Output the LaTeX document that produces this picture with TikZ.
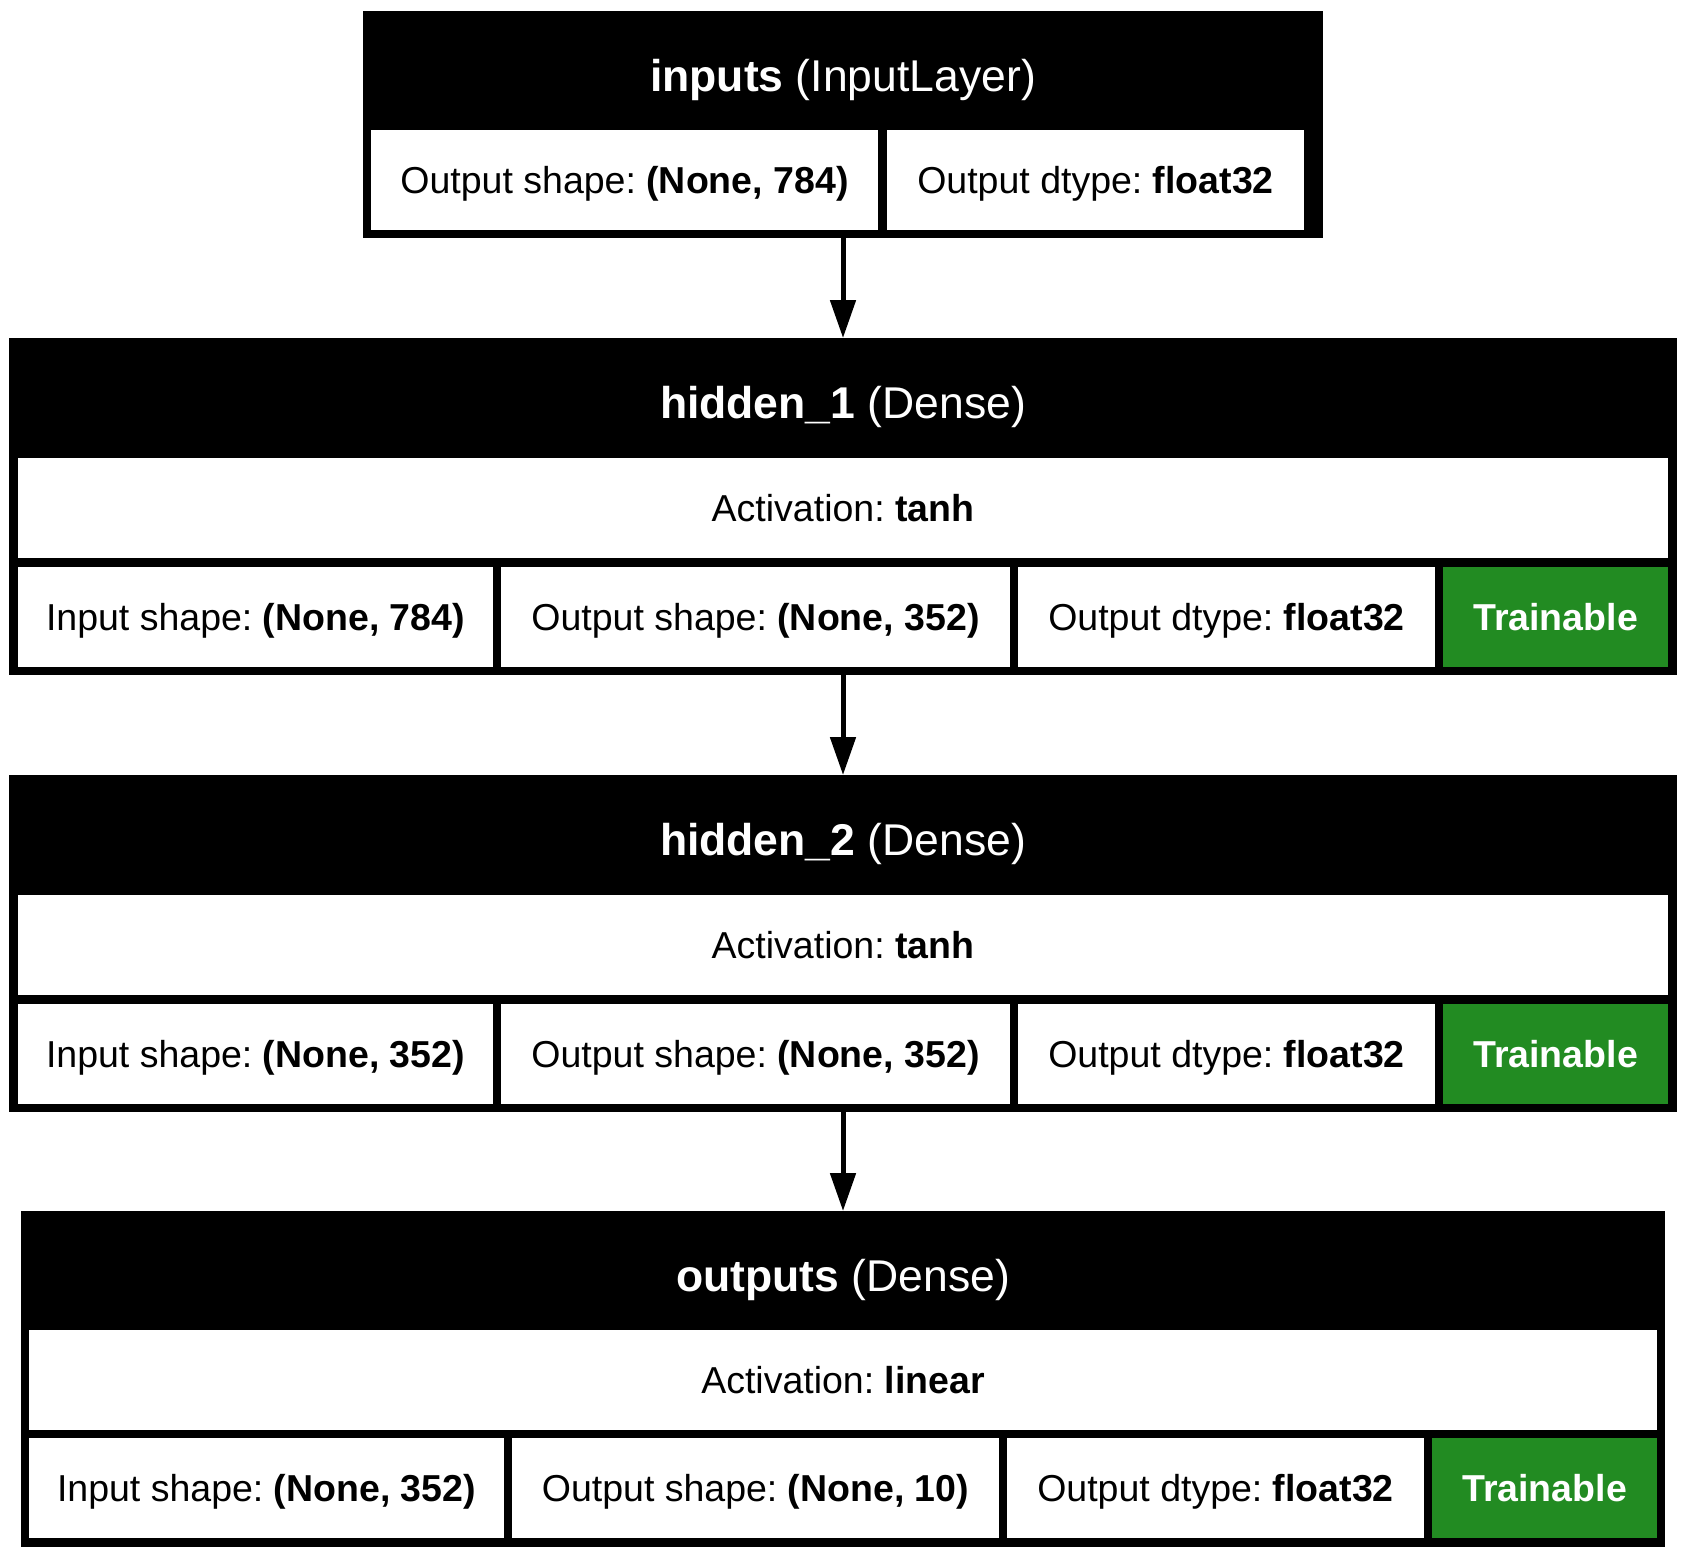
\documentclass[tikz,border=0pt]{standalone}
\usepackage{fontspec}
\setmainfont{Liberation Sans}
\usetikzlibrary{arrows.meta}
\definecolor{traingreen}{RGB}{34,139,34}
\frenchspacing
\tikzset{
  frame/.style={fill=black, draw=none, inner sep=0pt, outer sep=0pt, anchor=north west},
  cellbox/.style={fill=white, draw=none, inner sep=0pt, outer sep=0pt, anchor=north west,
    minimum height=100pt, font=\fontsize{37.5}{45}\selectfont\frenchspacing, text height=33.75pt, text depth=6.75pt},
  greencell/.style={cellbox, fill=traingreen, text=white, font=\fontsize{37.5}{45}\selectfont\bfseries},
  title/.style={text=white, inner sep=0pt, font=\fontsize{44.5}{53}\selectfont\frenchspacing, text height=40pt, text depth=8pt},
  conn/.style={line width=5pt, -{Triangle[length=38pt,width=25pt]}}
}
\begin{document}
\begin{tikzpicture}[x=1pt,y=-1pt]
\fill[white] (0,0) rectangle (1686,1558);
\useasboundingbox (0,0) rectangle (1686,1558);

% inputs
\node[frame, minimum width=960pt, minimum height=227pt] (inputs) at (363,11) {};
\node[title] (inputsT) at (843,75) {\textbf{inputs} (InputLayer)};
\node[cellbox, minimum width=507pt] (inputsA) at (371,130) {Output shape: \textbf{(None, 784)}};
\node[cellbox, minimum width=417pt] (inputsB) at (887,130) {Output dtype: \textbf{float32}};

% hidden_1
\node[frame, minimum width=1668pt, minimum height=337pt] (hidA) at (9,338) {};
\node[title] (hidAT) at (843,402) {\textbf{hidden\_1} (Dense)};
\node[cellbox, minimum width=1650pt] (hidAact) at (18,458) {Activation: \textbf{tanh}};
\node[cellbox, minimum width=475pt] (hidA1) at (18,567) {Input shape: \textbf{(None, 784)}};
\node[cellbox, minimum width=509pt] (hidA2) at (501,567) {Output shape: \textbf{(None, 352)}};
\node[cellbox, minimum width=417pt] (hidA3) at (1018,567) {Output dtype: \textbf{float32}};
\node[greencell, minimum width=225pt] (hidA4) at (1443,567) {Trainable};

% hidden_2
\node[frame, minimum width=1668pt, minimum height=337pt] (hidB) at (9,775) {};
\node[title] (hidBT) at (843,839) {\textbf{hidden\_2} (Dense)};
\node[cellbox, minimum width=1650pt] (hidBact) at (18,895) {Activation: \textbf{tanh}};
\node[cellbox, minimum width=475pt] (hidB1) at (18,1004) {Input shape: \textbf{(None, 352)}};
\node[cellbox, minimum width=509pt] (hidB2) at (501,1004) {Output shape: \textbf{(None, 352)}};
\node[cellbox, minimum width=417pt] (hidB3) at (1018,1004) {Output dtype: \textbf{float32}};
\node[greencell, minimum width=225pt] (hidB4) at (1443,1004) {Trainable};

% outputs
\node[frame, minimum width=1644pt, minimum height=336pt] (outs) at (21,1211) {};
\node[title] (outsT) at (843,1275) {\textbf{outputs} (Dense)};
\node[cellbox, minimum width=1628pt] (outsact) at (29,1330) {Activation: \textbf{linear}};
\node[cellbox, minimum width=475pt] (outs1) at (29,1438) {Input shape: \textbf{(None, 352)}};
\node[cellbox, minimum width=487pt] (outs2) at (512,1438) {Output shape: \textbf{(None, 10)}};
\node[cellbox, minimum width=417pt] (outs3) at (1007,1438) {Output dtype: \textbf{float32}};
\node[greencell, minimum width=225pt] (outs4) at (1432,1438) {Trainable};

% connectors
\draw[conn] (inputs.south) -- (hidA.north);
\draw[conn] (hidA.south) -- (hidB.north);
\draw[conn] (hidB.south) -- (outs.north);
\end{tikzpicture}
\end{document}
